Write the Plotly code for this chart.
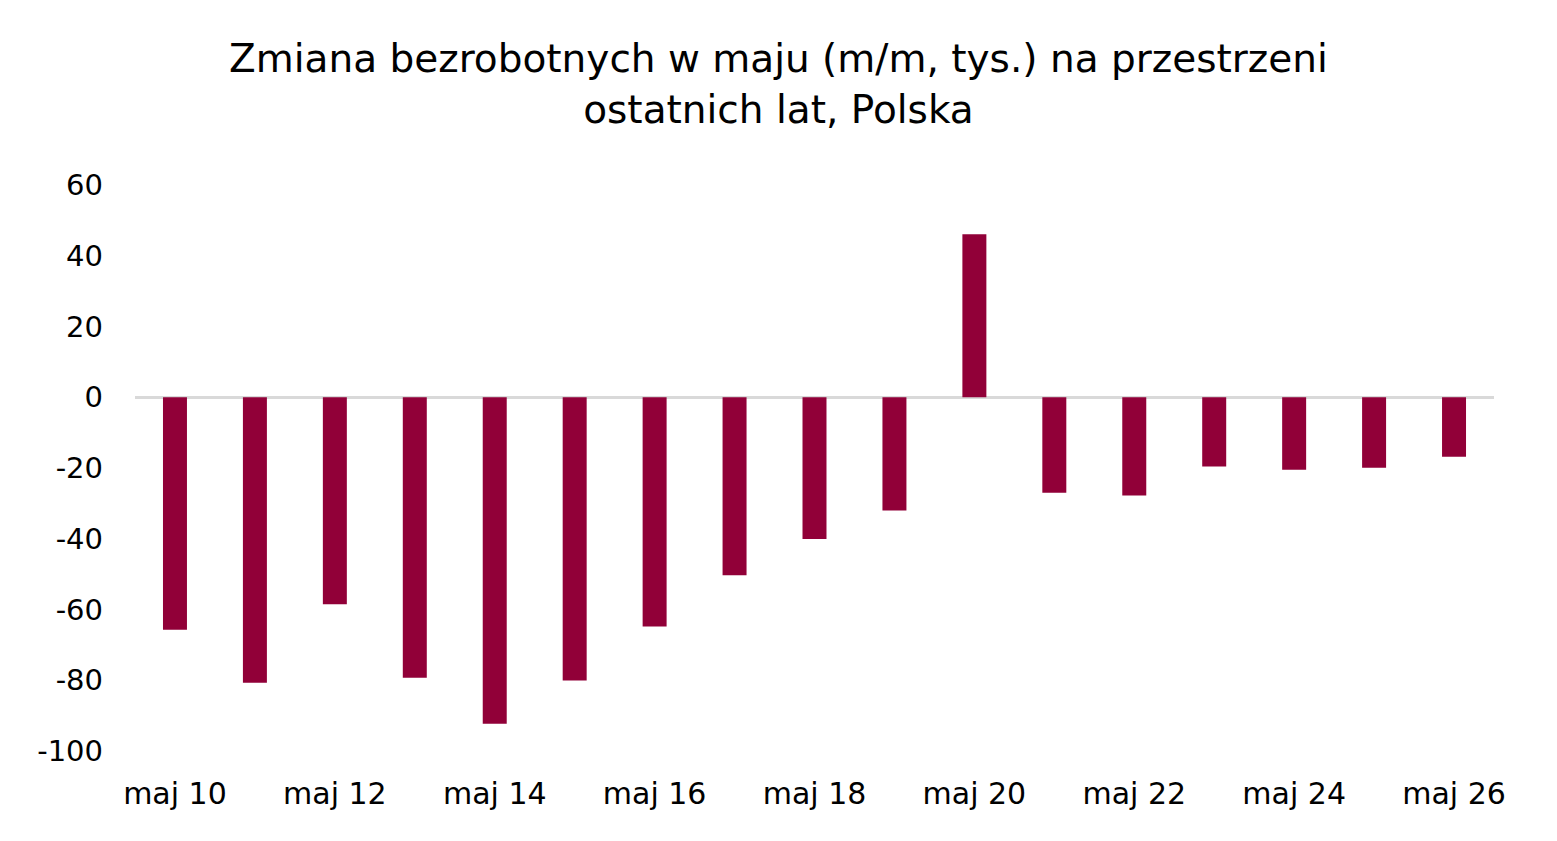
import plotly.graph_objects as go

years = list(range(10, 27))
categories = [f"maj {y}" for y in years]
values = [-65.7, -80.7, -58.5, -79.3, -92.3, -80.1, -64.8, -50.3, -40.1, -32.0,
          46.1, -27.0, -27.8, -19.6, -20.5, -19.9, -16.8]
tick_labels = categories[::2]
y_ticks = [-100, -80, -60, -40, -20, 0, 20, 40, 60]
y_tick_text = [str(v) for v in y_ticks]

FONT = "Verdana, DejaVu Sans, sans-serif"

fig = go.Figure()
fig.add_trace(go.Bar(
    x=categories, y=values,
    marker=dict(color="#910038", line=dict(width=0)),
    width=0.3,
))

fig.add_annotation(
    text="Zmiana bezrobotnych w maju (m/m, tys.) na przestrzeni<br>ostatnich lat, Polska",
    xref="paper", yref="paper", x=0.4735, xanchor="center",
    y=1.179, yanchor="middle", showarrow=False,
    font=dict(size=39, family=FONT, color="#000000"),
)

fig.update_layout(
    width=1557, height=841,
    margin=dict(l=135, r=63, t=185, b=90),
    paper_bgcolor="white", plot_bgcolor="white",
    showlegend=False,
    font=dict(family=FONT, color="#000000"),
    xaxis=dict(
        type="category", tickmode="array", tickvals=tick_labels, ticktext=tick_labels,
        showgrid=False, showline=False, ticks="", zeroline=False,
        tickfont=dict(size=30, family=FONT), ticklabelstandoff=22,
    ),
    yaxis=dict(
        range=[-100, 60], tickmode="array", tickvals=y_ticks, ticktext=y_tick_text,
        showgrid=False, showline=False, ticks="",
        zeroline=True, zerolinecolor="#d9d9d9", zerolinewidth=3,
        tickfont=dict(size=29, family=FONT), ticklabelstandoff=31,
    ),
)

fig.write_html("out.html")
